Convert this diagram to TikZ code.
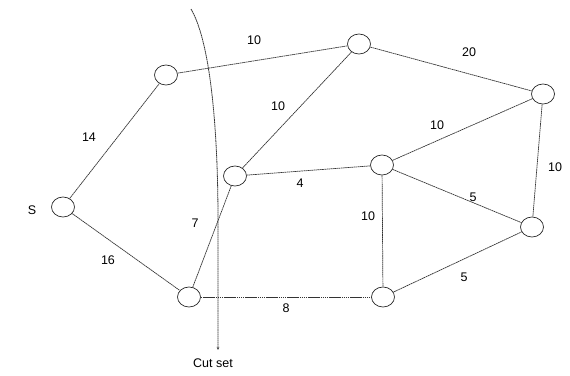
\documentclass[tikz,border=0pt]{standalone}
\usepackage{fontspec}
\setmainfont{Liberation Sans}
\usetikzlibrary{arrows.meta,shapes.geometric}
\tikzset{
  net/.style={x=1pt, y=-1pt, >=Stealth, font=\fontsize{12.5}{14}\selectfont},
  vtx/.style={draw=black!85, ellipse, minimum width=23pt, minimum height=20pt, inner sep=0pt, line width=0.7pt},
  arc/.style={draw=black!80, line width=0.7pt, dash pattern=on 1.6pt off 0.5pt},
  wt/.style={inner sep=1pt, text=black},
  cut/.style={->, black!80, line width=0.8pt, dash pattern=on 1.6pt off 0.5pt, >={Stealth[length=3pt,width=2.5pt]}}
}

\begin{document}
\begin{tikzpicture}[net]
\useasboundingbox (0,0) rectangle (570,375);
% vertices
\node[vtx] (s) at (63,207) {};
\node[vtx] (a) at (166,75) {};
\node[vtx] (b) at (359,44) {};
\node[vtx] (t) at (543,94) {};
\node[vtx] (d) at (235,176) {};
\node[vtx] (e) at (382,165) {};
\node[vtx] (f) at (532,227) {};
\node[vtx] (g) at (189,297) {};
\node[vtx] (h) at (383,297) {};
\node (slab) at (32,210) {S};
% arcs
\draw[arc] (s) -- (a); \draw[arc] (s) -- (g);
\draw[arc] (a) -- (b); \draw[arc] (b) -- (t);
\draw[arc] (d) -- (b); \draw[arc] (d) -- (e);
\draw[arc] (g) -- (d); \draw[arc] (g) -- (h);
\draw[arc] (e) -- (t); \draw[arc] (e) -- (h);
\draw[arc] (e) -- (f); \draw[arc] (h) -- (f);
\draw[arc] (t) -- (f);
% weights
\node[wt] (w1) at (89,137) {14};
\node[wt] (w2) at (108,260) {16};
\node[wt] (w3) at (254,40) {10};
\node[wt] (w4) at (278,106) {10};
\node[wt] (w5) at (469,52) {20};
\node[wt] (w6) at (437,125) {10};
\node[wt] (w7) at (555,167) {10};
\node[wt] (w8) at (300,183) {4};
\node[wt] (w9) at (195,223) {7};
\node[wt] (w10) at (286,308) {8};
\node[wt] (w11) at (368,216) {10};
\node[wt] (w12) at (473,197) {5};
\node[wt] (w13) at (464,277) {5};
% cut set
\coordinate (cuttop) at (191,9);
\coordinate (cutend) at (218,350);
\node (cutlab) at (213,363) {Cut set};
\draw[cut] (cuttop) .. controls (212,45) and (218,140) .. (218,220) -- (cutend);
\end{tikzpicture}
\end{document}
